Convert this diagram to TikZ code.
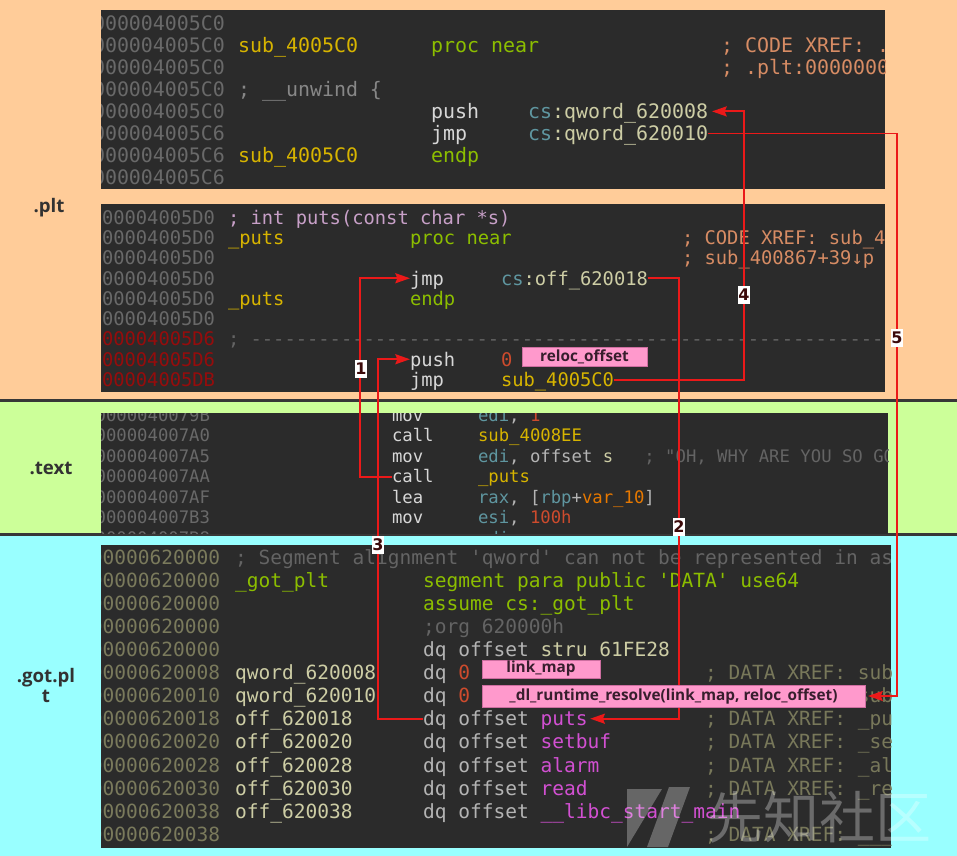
\documentclass[tikz,border=0pt]{standalone}
\usepackage{fontspec}
\setmonofont{DejaVu Sans Mono}
\newfontfamily\osans{Open Sans}
\newfontfamily\dsans{DejaVu Sans}
\newfontfamily\cjkf{Noto Sans CJK SC}
\usetikzlibrary{arrows.meta}
\definecolor{bgor}{RGB}{255,204,153}
\definecolor{bggr}{RGB}{204,255,153}
\definecolor{bgcy}{RGB}{153,255,255}
\definecolor{blk}{RGB}{43,43,43}
\definecolor{sepc}{RGB}{55,55,55}
\definecolor{addr}{RGB}{105,105,105}
\definecolor{addrr}{RGB}{150,12,12}
\definecolor{addro}{RGB}{122,122,92}
\definecolor{labc}{RGB}{215,180,0}
\definecolor{kwc}{RGB}{140,190,0}
\definecolor{insc}{RGB}{215,215,215}
\definecolor{cmtc}{RGB}{215,140,100}
\definecolor{cmtg}{RGB}{135,135,135}
\definecolor{cmtd}{RGB}{100,100,100}
\definecolor{tealc}{RGB}{95,150,160}
\definecolor{beigec}{RGB}{205,205,165}
\definecolor{pinkc}{RGB}{200,160,200}
\definecolor{numc}{RGB}{205,75,45}
\definecolor{magc}{RGB}{210,80,210}
\definecolor{olvc}{RGB}{120,120,90}
\definecolor{orgc}{RGB}{230,120,0}
\definecolor{opc}{RGB}{180,180,180}
\definecolor{arrc}{RGB}{235,25,25}
\definecolor{pfill}{RGB}{255,153,204}
\definecolor{pdraw}{RGB}{205,110,160}
\definecolor{ptext}{RGB}{55,30,45}
\definecolor{labtxt}{RGB}{50,50,50}
\definecolor{numtxt}{RGB}{60,10,10}
\newcommand\fntA{\ttfamily\fontsize{14.95}{16}\selectfont}
\newcommand\fntB{\ttfamily\fontsize{14.08}{15}\selectfont}
\newcommand\fntC{\ttfamily\fontsize{12.96}{14}\selectfont}
\newcommand\fntD{\ttfamily\fontsize{14.64}{16}\selectfont}
\begin{document}
\begin{tikzpicture}[x=0.75pt,y=-0.75pt,
  cA/.style={anchor=west,inner sep=0,outer sep=0,font=\fntA,text height=11.96pt,text depth=1.05pt},
  cB/.style={anchor=west,inner sep=0,outer sep=0,font=\fntB,text height=11.26pt,text depth=0.99pt},
  cC/.style={anchor=west,inner sep=0,outer sep=0,font=\fntC,text height=10.37pt,text depth=0.91pt},
  cD/.style={anchor=west,inner sep=0,outer sep=0,font=\fntD,text height=11.71pt,text depth=1.02pt},
  arr/.style={draw=arrc,line width=1.5pt,-{Stealth[length=11pt,width=7.5pt,inset=1.5pt]}},
  numlab/.style={fill=white,text=numtxt,font=\dsans\bfseries\fontsize{12}{12}\selectfont,inner xsep=0.6pt,inner ysep=2pt,text height=8.8pt,text depth=0pt},
  pbox/.style={fill=pfill,draw=pdraw,line width=0.6pt,inner sep=0,text=ptext,font=\osans\bfseries\fontsize{11.5}{12}\selectfont},
  seclab/.style={text=labtxt,font=\osans\bfseries\fontsize{14}{15}\selectfont,inner sep=0}]
\useasboundingbox (0,0) rectangle (957,856);
% backgrounds
\fill[bgor] (0,0) rectangle (957,400);
\fill[bggr] (0,400) rectangle (957,534);
\fill[bgcy] (0,534) rectangle (957,856);
\draw[sepc,line width=2pt] (0,400.5) -- (957,400.5);
\draw[sepc,line width=2pt] (0,534.5) -- (957,534.5);
% section labels
\node[seclab] (Lplt) at (49,208) {.plt};
\node[seclab] (Ltext) at (51,468) {.text};
\node[seclab,align=center] (Lgot) at (46,685) {.got.pl\\t};
% dark blocks
\fill[blk] (101,10) rectangle (885,189);
\fill[blk] (101,204) rectangle (885,392);
\fill[blk] (101,413) rectangle (888,534);
\fill[blk] (101,545) rectangle (891,848);
% ---------------- block A
\begin{scope}
\clip (101,10) rectangle (885,189);
\foreach \t [count=\i] in {000004005C0,000004005C0,000004005C0,000004005C0,000004005C0,000004005C6,000004005C6,000004005C6}
  \node[cA,text=addr] (adA\i) at (93,{23+22.1*(\i-1)}) {\t};
\node[cA,text=labc] (lA2) at (238,45.1) {sub\_4005C0};
\node[cA,text=kwc] (kA2) at (431,45.1) {proc near};
\node[cA,text=cmtc] (mA2) at (721,45.1) {; CODE XREF: .plt:00000000004005EB↓j};
\node[cA,text=cmtc] (mA3) at (721,67.2) {; .plt:00000000004005FB↓j};
\node[cA,text=cmtg] (mA4) at (238,89.3) {; \_\_unwind \{};
\node[cA,text=insc] (iA5) at (431,111.4) {push};
\node[cA,text=beigec] (qw8) at (528,111.4) {\textcolor{tealc}{cs}:qword\_620008};
\node[cA,text=insc] (iA6) at (431,133.5) {jmp};
\node[cA,text=beigec] (qw10) at (528,133.5) {\textcolor{tealc}{cs}:qword\_620010};
\node[cA,text=labc] (lA7) at (238,155.6) {sub\_4005C0};
\node[cA,text=kwc] (kA7) at (431,155.6) {endp};
\end{scope}
% ---------------- block B
\begin{scope}
\clip (101,204) rectangle (885,392);
\foreach \t [count=\i] in {000004005D0,000004005D0,000004005D0,000004005D0,000004005D0,000004005D0}
  \node[cB,text=addr] (adB\i) at (90.7,{217.5+20.25*(\i-1)}) {\t};
\foreach \t [count=\i from 7] in {000004005D6,000004005D6,000004005DB}
  \node[cB,text=addrr] (adB\i) at (90.7,{217.5+20.25*(\i-1)}) {\t};
\node[cB,text=pinkc] (mB1) at (228,217.5) {; int puts(const char *s)};
\node[cB,text=labc] (lB2) at (228,237.75) {\_puts};
\node[cB,text=kwc] (kB2) at (410,237.75) {proc near};
\node[cB,text=cmtc] (mB2) at (682,237.75) {; CODE XREF: sub\_400867+1E↓p};
\node[cB,text=cmtc] (mB3) at (682,258) {; sub\_400867+39↓p};
\node[cB,text=insc] (jmpB) at (410,278.25) {jmp};
\node[cB,text=beigec] (offB) at (501,278.25) {\textcolor{tealc}{cs}:off\_620018};
\node[cB,text=labc] (lB5) at (228,298.5) {\_puts};
\node[cB,text=kwc] (kB5) at (410,298.5) {endp};
\node[cB,text=cmtd] (mB7) at (228,339) {; ----------------------------------------------------------------};
\node[cB,text=insc] (pushB) at (410,359.25) {push};
\node[cB,text=numc] (zB8) at (501,359.25) {0};
\node[cB,text=insc] (iB9) at (410,379.5) {jmp};
\node[cB,text=labc] (subB) at (501,379.5) {sub\_4005C0};
\end{scope}
% ---------------- block C
\begin{scope}
\clip (101,413) rectangle (888,533);
\foreach \t [count=\i] in {0000040079B,000004007A0,000004007A5,000004007AA,000004007AF,000004007B3,000004007B8}
  \node[cC,text=addr] (adC\i) at (95.6,{415+20.5*(\i-1)}) {\t};
\node[cC,text=insc] (iC1) at (392,415) {mov};
\node[cC,text=opc] (oC1) at (478,415) {\textcolor{tealc}{edi}, \textcolor{numc}{1}};
\node[cC,text=insc] (iC2) at (392,435.5) {call};
\node[cC,text=labc] (oC2) at (478,435.5) {sub\_4008EE};
\node[cC,text=insc] (iC3) at (392,456) {mov};
\node[cC,text=opc] (oC3) at (478,456) {\textcolor{tealc}{edi}, offset \textcolor{beigec}{s}};
\node[cC,text=cmtd] (mC3) at (644.4,456) {; "OH, WHY ARE YOU SO GOOD?"};
\node[cC,text=insc] (callp) at (392,476.5) {call};
\node[cC,text=labc] (oC4) at (478,476.5) {\_puts};
\node[cC,text=insc] (iC5) at (392,497) {lea};
\node[cC,text=opc] (oC5) at (478,497) {\textcolor{tealc}{rax}, [\textcolor{tealc}{rbp}+\textcolor{orgc}{var\_10}]};
\node[cC,text=insc] (iC6) at (392,517.5) {mov};
\node[cC,text=opc] (oC6) at (478,517.5) {\textcolor{tealc}{esi}, \textcolor{numc}{100h}};
\node[cC,text=insc] (iC7) at (392,538) {mov};
\node[cC,text=opc] (oC7) at (478,538) {\textcolor{tealc}{rdi}, \textcolor{tealc}{rax}};
\end{scope}
% ---------------- block D
\begin{scope}
\clip (101,545) rectangle (891,848);
\foreach \t [count=\i] in {00000620000,00000620000,00000620000,00000620000,00000620000,00000620008,00000620010,00000620018,00000620020,00000620028,00000620030,00000620038,00000620038}
  \node[cD,text=addro] (adD\i) at (90.75,{557+23.1*(\i-1)}) {\t};
\node[cD,text=cmtd] (mD1) at (235,557) {; Segment alignment 'qword' can not be represented in assembly};
\node[cD,text=kwc] (lD2) at (235,580.1) {\_got\_plt};
\node[cD,text=kwc] (kD2) at (423,580.1) {segment para public 'DATA' use64};
\node[cD,text=kwc] (kD3) at (423,603.2) {assume cs:\_got\_plt};
\node[cD,text=cmtd] (mD4) at (423,626.3) {;org 620000h};
\node[cD,text=opc] (dD5) at (423,649.4) {dq offset \textcolor{beigec}{stru 61FE28}};
\node[cD,text=beigec] (lD6) at (235,672.5) {qword\_620008};
\node[cD,text=opc] (dD6) at (423,672.5) {dq \textcolor{numc}{0}};
\node[cD,text=olvc] (mD6) at (705,672.5) {; DATA XREF: sub\_4005C0↑r};
\node[cD,text=beigec] (lD7) at (235,695.6) {qword\_620010};
\node[cD,text=opc] (dD7) at (423,695.6) {dq \textcolor{numc}{0}};
\node[cD,text=olvc] (mD7) at (705,695.6) {; DATA XREF: sub\_4005C0+6↑r};
\node[cD,text=beigec] (lD8) at (235,718.7) {off\_620018};
\node[cD,text=opc] (dD8) at (423,718.7) {dq offset \textcolor{magc}{puts}};
\node[cD,text=olvc] (mD8) at (705,718.7) {; DATA XREF: \_puts↑r};
\node[cD,text=beigec] (lD9) at (235,741.8) {off\_620020};
\node[cD,text=opc] (dD9) at (423,741.8) {dq offset \textcolor{magc}{setbuf}};
\node[cD,text=olvc] (mD9) at (705,741.8) {; DATA XREF: \_setbuf↑r};
\node[cD,text=beigec] (lD10) at (235,764.9) {off\_620028};
\node[cD,text=opc] (dD10) at (423,764.9) {dq offset \textcolor{magc}{alarm}};
\node[cD,text=olvc] (mD10) at (705,764.9) {; DATA XREF: \_alarm↑r};
\node[cD,text=beigec] (lD11) at (235,788) {off\_620030};
\node[cD,text=opc] (dD11) at (423,788) {dq offset \textcolor{magc}{read}};
\node[cD,text=olvc] (mD11) at (705,788) {; DATA XREF: \_read↑r};
\node[cD,text=beigec] (lD12) at (235,811.1) {off\_620038};
\node[cD,text=opc] (dD12) at (423,811.1) {dq offset \textcolor{magc}{\_\_libc\_start\_main}};
\node[cD,text=olvc] (mD13) at (705,834.2) {; DATA XREF: \_\_\_libc\_start\_main↑r};
\end{scope}
% ---------------- connectors
\coordinate (v1) at (360,0);
\coordinate (v2) at (679,0);
\coordinate (v3) at (378,0);
\coordinate (v4) at (744,0);
\coordinate (v5) at (897,0);
\draw[arr] (callp.west) -- (callp.west -| v1) -- (jmpB.west -| v1) -- (jmpB.west);
\draw[arr,shorten >=2pt] (offB.east) -- (offB.east -| v2) -- (dD8.east -| v2) -- (dD8.east);
\draw[arr] (dD8.west) -- (dD8.west -| v3) -- (pushB.west -| v3) -- (pushB.west);
\draw[arr,shorten >=3pt] (subB.east) -- (subB.east -| v4) -- (qw8.east -| v4) -- (qw8.east);
% pink boxes
\node[pbox,minimum width=93.75pt,minimum height=14.25pt] (reloc) at (584.5,356.5) {reloc\_offset};
\node[pbox,minimum width=88.5pt,minimum height=13.5pt] (lmap) at (541,669) {link\_map};
\node[pbox,minimum width=287.25pt,minimum height=16.5pt] (dlbox) at (673.5,696) {\_dl\_runtime\_resolve(link\_map, reloc\_offset)};
\draw[arr,line width=1.2pt,shorten >=2pt] (qw10.east) -- (qw10.east -| v5) -- (dlbox.east -| v5) -- (dlbox.east);
% number labels
\node[numlab] (n1) at (361,369) {1};
\node[numlab] (n2) at (679,527) {2};
\node[numlab] (n3) at (378,545) {3};
\node[numlab] (n4) at (744,295) {4};
\node[numlab] (n5) at (897,338) {5};
% watermark
\fill[white,opacity=0.28] (627,789) -- (662,789) -- (627,847) -- cycle;
\fill[white,opacity=0.28] (647,847) -- (668,847) -- (690,787) -- (669,787) -- cycle;
\node[text=white,text opacity=0.3,font=\cjkf\fontsize{42}{42}\selectfont,inner sep=0] (wmk) at (819,817) {先知社区};
\end{tikzpicture}
\end{document}
